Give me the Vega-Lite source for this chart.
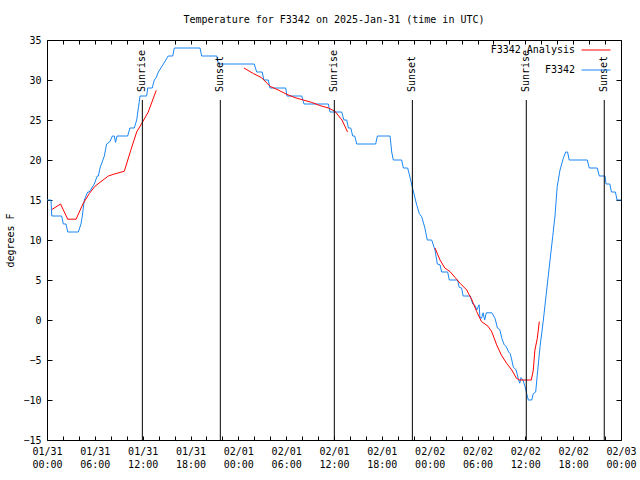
{
"$schema":"https://vega.github.io/schema/vega-lite/v6.json",
"width":574,"height":400,
"autosize":{"type":"none"},
"padding":{"left":47,"top":40,"right":19,"bottom":40},
"background":"white",
"title":{"text":"Temperature for F3342 on 2025-Jan-31 (time in UTC)","fontSize":10,"fontWeight":"normal","font":"DejaVu Sans Mono","anchor":"middle","offset":10,"color":"black"},
"config":{"font":"DejaVu Sans Mono","view":{"stroke":"black","strokeWidth":1},
"axis":{"domain":false,"grid":false,"labelFont":"DejaVu Sans Mono","labelFontSize":10,"labelColor":"black","tickColor":"black","titleFont":"DejaVu Sans Mono","titleFontSize":10,"titleFontWeight":"normal","titleColor":"black"}},
"datasets":{
"obs":[
{"series":"F3342","seg":0,"hour":0,"temp":15},{"series":"F3342","seg":0,"hour":0.5,"temp":15},{"series":"F3342","seg":0,"hour":0.6,"temp":13},{"series":"F3342","seg":0,"hour":1.84,"temp":13},{"series":"F3342","seg":0,"hour":2.05,"temp":12},{"series":"F3342","seg":0,"hour":2.38,"temp":12},{"series":"F3342","seg":0,"hour":2.6,"temp":11},{"series":"F3342","seg":0,"hour":3.93,"temp":11},{"series":"F3342","seg":0,"hour":4.26,"temp":12},{"series":"F3342","seg":0,"hour":4.43,"temp":13},{"series":"F3342","seg":0,"hour":4.68,"temp":15},{"series":"F3342","seg":0,"hour":5.1,"temp":16},{"series":"F3342","seg":0,"hour":5.3,"temp":16},{"series":"F3342","seg":0,"hour":5.94,"temp":17},{"series":"F3342","seg":0,"hour":6.3,"temp":18},{"series":"F3342","seg":0,"hour":6.45,"temp":18},{"series":"F3342","seg":0,"hour":6.65,"temp":19},{"series":"F3342","seg":0,"hour":7.19,"temp":20.5},{"series":"F3342","seg":0,"hour":7.48,"temp":22},{"series":"F3342","seg":0,"hour":7.9,"temp":22.3},{"series":"F3342","seg":0,"hour":8.2,"temp":23},{"series":"F3342","seg":0,"hour":8.44,"temp":23},{"series":"F3342","seg":0,"hour":8.6,"temp":22.2},{"series":"F3342","seg":0,"hour":8.78,"temp":23},{"series":"F3342","seg":0,"hour":10.12,"temp":23},{"series":"F3342","seg":0,"hour":10.4,"temp":24},{"series":"F3342","seg":0,"hour":10.95,"temp":24},{"series":"F3342","seg":0,"hour":11.25,"temp":25},{"series":"F3342","seg":0,"hour":11.67,"temp":28},{"series":"F3342","seg":0,"hour":12.5,"temp":28},{"series":"F3342","seg":0,"hour":12.63,"temp":29},{"series":"F3342","seg":0,"hour":13.2,"temp":29},{"series":"F3342","seg":0,"hour":13.46,"temp":30},{"series":"F3342","seg":0,"hour":13.7,"temp":30.3},{"series":"F3342","seg":0,"hour":13.97,"temp":31},{"series":"F3342","seg":0,"hour":14.6,"temp":32},{"series":"F3342","seg":0,"hour":15.2,"temp":33},{"series":"F3342","seg":0,"hour":15.77,"temp":33},{"series":"F3342","seg":0,"hour":15.97,"temp":34},{"series":"F3342","seg":0,"hour":19.19,"temp":34},{"series":"F3342","seg":0,"hour":19.4,"temp":33},{"series":"F3342","seg":0,"hour":21.3,"temp":33},{"series":"F3342","seg":0,"hour":21.5,"temp":32},{"series":"F3342","seg":0,"hour":26.0,"temp":32},{"series":"F3342","seg":0,"hour":26.3,"temp":31},{"series":"F3342","seg":0,"hour":27.0,"temp":31},{"series":"F3342","seg":0,"hour":27.2,"temp":30},{"series":"F3342","seg":0,"hour":27.76,"temp":30},{"series":"F3342","seg":0,"hour":27.97,"temp":29},{"series":"F3342","seg":0,"hour":29.94,"temp":29},{"series":"F3342","seg":0,"hour":30.1,"temp":28},{"series":"F3342","seg":0,"hour":31.95,"temp":28},{"series":"F3342","seg":0,"hour":32.24,"temp":27},{"series":"F3342","seg":0,"hour":35.29,"temp":27},{"series":"F3342","seg":0,"hour":35.5,"temp":26},{"series":"F3342","seg":0,"hour":36.96,"temp":26},{"series":"F3342","seg":0,"hour":37.25,"temp":25},{"series":"F3342","seg":0,"hour":37.6,"temp":25},{"series":"F3342","seg":0,"hour":37.8,"temp":24},{"series":"F3342","seg":0,"hour":38.1,"temp":24},{"series":"F3342","seg":0,"hour":38.35,"temp":23},{"series":"F3342","seg":0,"hour":38.6,"temp":23},{"series":"F3342","seg":0,"hour":38.85,"temp":22},{"series":"F3342","seg":0,"hour":41.23,"temp":22},{"series":"F3342","seg":0,"hour":41.44,"temp":23},{"series":"F3342","seg":0,"hour":43.03,"temp":23},{"series":"F3342","seg":0,"hour":43.24,"temp":21},{"series":"F3342","seg":0,"hour":43.44,"temp":20},{"series":"F3342","seg":0,"hour":44.49,"temp":20},{"series":"F3342","seg":0,"hour":44.7,"temp":19},{"series":"F3342","seg":0,"hour":45.24,"temp":19},{"series":"F3342","seg":0,"hour":45.5,"temp":18},{"series":"F3342","seg":0,"hour":45.8,"temp":16.7},{"series":"F3342","seg":0,"hour":46.37,"temp":14.4},{"series":"F3342","seg":0,"hour":46.7,"temp":13.3},{"series":"F3342","seg":0,"hour":47.0,"temp":12.9},{"series":"F3342","seg":0,"hour":47.4,"temp":11.5},{"series":"F3342","seg":0,"hour":47.7,"temp":10},{"series":"F3342","seg":0,"hour":48.25,"temp":10},{"series":"F3342","seg":0,"hour":48.67,"temp":8.75},{"series":"F3342","seg":0,"hour":48.96,"temp":7},{"series":"F3342","seg":0,"hour":49.3,"temp":6.9},{"series":"F3342","seg":0,"hour":49.5,"temp":6},{"series":"F3342","seg":0,"hour":50.26,"temp":6},{"series":"F3342","seg":0,"hour":50.46,"temp":5},{"series":"F3342","seg":0,"hour":51.5,"temp":5},{"series":"F3342","seg":0,"hour":51.7,"temp":4.1},{"series":"F3342","seg":0,"hour":52.0,"temp":4},{"series":"F3342","seg":0,"hour":52.2,"temp":3},{"series":"F3342","seg":0,"hour":53.1,"temp":3},{"series":"F3342","seg":0,"hour":53.4,"temp":2},{"series":"F3342","seg":0,"hour":53.7,"temp":1.8},{"series":"F3342","seg":0,"hour":53.9,"temp":1.25},{"series":"F3342","seg":0,"hour":54.2,"temp":1.9},{"series":"F3342","seg":0,"hour":54.3,"temp":0.4},{"series":"F3342","seg":0,"hour":54.5,"temp":0.2},{"series":"F3342","seg":0,"hour":54.7,"temp":0.9},{"series":"F3342","seg":0,"hour":54.9,"temp":0},{"series":"F3342","seg":0,"hour":55.1,"temp":0.9},{"series":"F3342","seg":0,"hour":55.8,"temp":0.9},{"series":"F3342","seg":0,"hour":56.2,"temp":0.2},{"series":"F3342","seg":0,"hour":56.5,"temp":-1},{"series":"F3342","seg":0,"hour":56.8,"temp":-1.2},{"series":"F3342","seg":0,"hour":57.05,"temp":-2.3},{"series":"F3342","seg":0,"hour":57.35,"temp":-3.1},{"series":"F3342","seg":0,"hour":57.6,"temp":-3.3},{"series":"F3342","seg":0,"hour":57.9,"temp":-4},{"series":"F3342","seg":0,"hour":58.1,"temp":-4.2},{"series":"F3342","seg":0,"hour":58.3,"temp":-5},{"series":"F3342","seg":0,"hour":58.5,"temp":-5.9},{"series":"F3342","seg":0,"hour":58.85,"temp":-6.25},{"series":"F3342","seg":0,"hour":59.1,"temp":-7.3},{"series":"F3342","seg":0,"hour":59.3,"temp":-7.9},{"series":"F3342","seg":0,"hour":59.45,"temp":-7.2},{"series":"F3342","seg":0,"hour":59.7,"temp":-7.5},{"series":"F3342","seg":0,"hour":59.96,"temp":-8.3},{"series":"F3342","seg":0,"hour":60.17,"temp":-9.2},{"series":"F3342","seg":0,"hour":60.37,"temp":-10},{"series":"F3342","seg":0,"hour":60.8,"temp":-10},{"series":"F3342","seg":0,"hour":61.0,"temp":-9.2},{"series":"F3342","seg":0,"hour":61.3,"temp":-9},{"series":"F3342","seg":0,"hour":61.55,"temp":-6.3},{"series":"F3342","seg":0,"hour":61.85,"temp":-3.3},{"series":"F3342","seg":0,"hour":62.26,"temp":0},{"series":"F3342","seg":0,"hour":62.68,"temp":3.75},{"series":"F3342","seg":0,"hour":63.1,"temp":7.5},{"series":"F3342","seg":0,"hour":63.43,"temp":10.4},{"series":"F3342","seg":0,"hour":63.72,"temp":13},{"series":"F3342","seg":0,"hour":64.0,"temp":16.7},{"series":"F3342","seg":0,"hour":64.35,"temp":18.75},{"series":"F3342","seg":0,"hour":64.76,"temp":20.2},{"series":"F3342","seg":0,"hour":65.06,"temp":21},{"series":"F3342","seg":0,"hour":65.3,"temp":21},{"series":"F3342","seg":0,"hour":65.5,"temp":20},{"series":"F3342","seg":0,"hour":67.77,"temp":20},{"series":"F3342","seg":0,"hour":68.02,"temp":19},{"series":"F3342","seg":0,"hour":69.02,"temp":19},{"series":"F3342","seg":0,"hour":69.28,"temp":18},{"series":"F3342","seg":0,"hour":70.0,"temp":18},{"series":"F3342","seg":0,"hour":70.12,"temp":17},{"series":"F3342","seg":0,"hour":70.6,"temp":17},{"series":"F3342","seg":0,"hour":70.8,"temp":16},{"series":"F3342","seg":0,"hour":71.3,"temp":16},{"series":"F3342","seg":0,"hour":71.5,"temp":15},{"series":"F3342","seg":0,"hour":72,"temp":15},
{"series":"F3342 Analysis","seg":1,"hour":0.6,"temp":13.8},{"series":"F3342 Analysis","seg":1,"hour":1.7,"temp":14.5},{"series":"F3342 Analysis","seg":1,"hour":2.6,"temp":12.6},{"series":"F3342 Analysis","seg":1,"hour":3.65,"temp":12.6},{"series":"F3342 Analysis","seg":1,"hour":4.5,"temp":14.5},{"series":"F3342 Analysis","seg":1,"hour":5.3,"temp":15.8},{"series":"F3342 Analysis","seg":1,"hour":6.0,"temp":16.7},{"series":"F3342 Analysis","seg":1,"hour":6.9,"temp":17.4},{"series":"F3342 Analysis","seg":1,"hour":7.7,"temp":18.0},{"series":"F3342 Analysis","seg":1,"hour":8.3,"temp":18.2},{"series":"F3342 Analysis","seg":1,"hour":9.7,"temp":18.6},{"series":"F3342 Analysis","seg":1,"hour":10.5,"temp":21.2},{"series":"F3342 Analysis","seg":1,"hour":11.25,"temp":23.5},{"series":"F3342 Analysis","seg":1,"hour":11.9,"temp":24.6},{"series":"F3342 Analysis","seg":1,"hour":12.7,"temp":26.0},{"series":"F3342 Analysis","seg":1,"hour":13.7,"temp":28.7},
{"series":"F3342 Analysis","seg":2,"hour":24.7,"temp":31.5},{"series":"F3342 Analysis","seg":2,"hour":25.9,"temp":30.8},{"series":"F3342 Analysis","seg":2,"hour":26.9,"temp":30.3},{"series":"F3342 Analysis","seg":2,"hour":28.0,"temp":29.2},{"series":"F3342 Analysis","seg":2,"hour":29.0,"temp":28.75},{"series":"F3342 Analysis","seg":2,"hour":30.1,"temp":28.2},{"series":"F3342 Analysis","seg":2,"hour":31.1,"temp":27.8},{"series":"F3342 Analysis","seg":2,"hour":32.15,"temp":27.5},{"series":"F3342 Analysis","seg":2,"hour":33.2,"temp":27.2},{"series":"F3342 Analysis","seg":2,"hour":34.25,"temp":26.8},{"series":"F3342 Analysis","seg":2,"hour":35.3,"temp":26.5},{"series":"F3342 Analysis","seg":2,"hour":36.1,"temp":26.1},{"series":"F3342 Analysis","seg":2,"hour":37.0,"temp":25.0},{"series":"F3342 Analysis","seg":2,"hour":37.7,"temp":23.5},
{"series":"F3342 Analysis","seg":3,"hour":48.67,"temp":9.0},{"series":"F3342 Analysis","seg":3,"hour":49.3,"temp":7.5},{"series":"F3342 Analysis","seg":3,"hour":49.9,"temp":6.5},{"series":"F3342 Analysis","seg":3,"hour":50.55,"temp":6.05},{"series":"F3342 Analysis","seg":3,"hour":51.2,"temp":5.3},{"series":"F3342 Analysis","seg":3,"hour":51.8,"temp":4.6},{"series":"F3342 Analysis","seg":3,"hour":52.65,"temp":3.75},{"series":"F3342 Analysis","seg":3,"hour":53.3,"temp":2.5},{"series":"F3342 Analysis","seg":3,"hour":53.9,"temp":1.05},{"series":"F3342 Analysis","seg":3,"hour":54.5,"temp":-0.2},{"series":"F3342 Analysis","seg":3,"hour":55.35,"temp":-0.8},{"series":"F3342 Analysis","seg":3,"hour":55.8,"temp":-1.5},{"series":"F3342 Analysis","seg":3,"hour":56.4,"temp":-3.1},{"series":"F3342 Analysis","seg":3,"hour":57.0,"temp":-4.4},{"series":"F3342 Analysis","seg":3,"hour":57.65,"temp":-5.4},{"series":"F3342 Analysis","seg":3,"hour":58.3,"temp":-6.25},{"series":"F3342 Analysis","seg":3,"hour":58.9,"temp":-7.3},{"series":"F3342 Analysis","seg":3,"hour":59.3,"temp":-7.5},{"series":"F3342 Analysis","seg":3,"hour":60.75,"temp":-7.5},{"series":"F3342 Analysis","seg":3,"hour":61.0,"temp":-6.25},{"series":"F3342 Analysis","seg":3,"hour":61.2,"temp":-3.75},{"series":"F3342 Analysis","seg":3,"hour":61.5,"temp":-2.3},{"series":"F3342 Analysis","seg":3,"hour":61.75,"temp":-0.2}
],
"sun":[{"hour":11.96,"event":"Sunrise"},{"hour":21.74,"event":"Sunset"},{"hour":36.04,"event":"Sunrise"},{"hour":45.83,"event":"Sunset"},{"hour":60.12,"event":"Sunrise"},{"hour":69.9,"event":"Sunset"}]
},
"layer":[
{"data":{"name":"obs"},"mark":{"type":"line","strokeWidth":1},
"encoding":{
"x":{"field":"hour","type":"quantitative","scale":{"domain":[0,72],"nice":false,"zero":false},
"axis":{"orient":"bottom","values":[0,2,4,6,8,10,12,14,16,18,20,22,24,26,28,30,32,34,36,38,40,42,44,46,48,50,52,54,56,58,60,62,64,66,68,70,72],"tickSize":-4,"labelPadding":10,"labelOverlap":false,"labelFlush":false,"labelLineHeight":13,"labelExpr":"datum.value % 6 != 0 ? '' : [['01/31','02/01','02/02','02/03'][floor(datum.value/24)], ((datum.value % 24) < 10 ? '0' : '') + (datum.value % 24) + ':00']","title":null}},
"y":{"field":"temp","type":"quantitative","scale":{"domain":[-15,35],"nice":false,"zero":false},
"axis":{"orient":"left","values":[-15,-10,-5,0,5,10,15,20,25,30,35],"tickSize":-5,"labelPadding":11,"title":"degrees F","titleX":-37,"titleY":200,"titleAlign":"center","titleBaseline":"middle"}},
"color":{"field":"series","type":"nominal","scale":{"domain":["F3342 Analysis","F3342"],"range":["#ff0000","#1a86f2"]},
"legend":{"orient":"none","legendX":534,"legendY":-5,"title":null,"padding":0,"symbolType":"stroke","symbolSize":841,"symbolStrokeWidth":1,"labelAlign":"right","labelOffset":-36,"labelFontSize":10,"labelFont":"DejaVu Sans Mono","labelColor":"black","rowPadding":-16}},
"detail":{"field":"seg","type":"nominal"}
}},
{"data":{"name":"sun"},"mark":{"type":"rule","color":"black","strokeWidth":1},
"encoding":{
"x":{"field":"hour","type":"quantitative","axis":{"orient":"top","values":[0,2,4,6,8,10,12,14,16,18,20,22,24,26,28,30,32,34,36,38,40,42,44,46,48,50,52,54,56,58,60,62,64,66,68,70,72],"tickSize":-4,"labels":false,"title":null}},
"y":{"datum":27.5,"type":"quantitative","axis":{"orient":"right","values":[-15,-10,-5,0,5,10,15,20,25,30,35],"tickSize":-5,"labels":false,"title":null}},
"y2":{"datum":-15}
}},
{"data":{"name":"sun"},"mark":{"type":"text","angle":270,"align":"left","baseline":"middle","fontSize":10,"font":"DejaVu Sans Mono","color":"black"},
"encoding":{
"x":{"field":"hour","type":"quantitative","axis":null},
"y":{"datum":28.5,"type":"quantitative","axis":null},
"text":{"field":"event"}
}}
],
"resolve":{"axis":{"x":"independent","y":"independent"}}
}
